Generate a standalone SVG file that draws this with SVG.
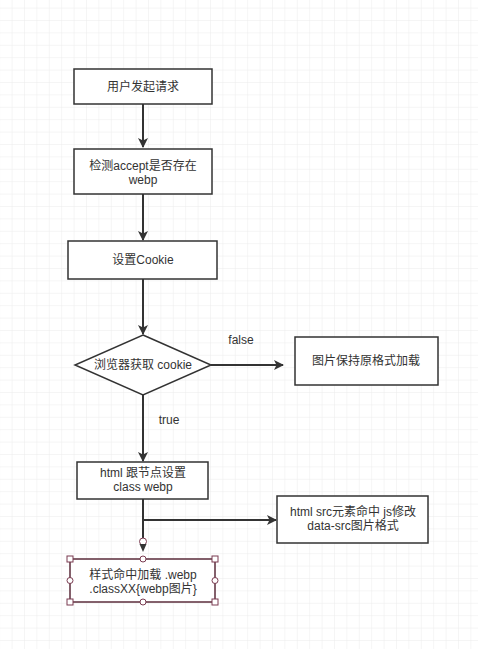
<svg xmlns="http://www.w3.org/2000/svg" width="478" height="649" viewBox="0 0 478 649">
<defs>
<pattern id="grid" x="11.6" y="7.6" width="12.4" height="12.4" patternUnits="userSpaceOnUse">
<path d="M0 0H12.4M0 0V12.4" fill="none" stroke="#ececec" stroke-width="1"/>
</pattern>
<marker id="arr" markerWidth="10" markerHeight="10" refX="9" refY="5" orient="auto" markerUnits="userSpaceOnUse">
<path d="M0 0L10 5L0 10L2.5 5Z" fill="#333"/>
</marker>
<style>
.box{fill:#fff;stroke:#333;stroke-width:1.5}
.sel{fill:#fff;stroke:#5b2c3b;stroke-width:1.5}
.t{font-family:"Liberation Sans","Noto Sans CJK SC",sans-serif;font-size:12px;fill:#333;text-anchor:middle}
.c{fill:none;stroke:#333;stroke-width:2}
.h{fill:#fff;stroke:#7a3b50;stroke-width:1}
</style>
</defs>
<rect width="478" height="649" fill="#fff"/>
<rect width="478" height="649" fill="url(#grid)"/>
<g id="connectors">
<path class="c" d="M143 104V147" marker-end="url(#arr)"/>
<path class="c" d="M143 194V240" marker-end="url(#arr)"/>
<path class="c" d="M143 279V334" marker-end="url(#arr)"/>
<path class="c" d="M211 365H283" marker-end="url(#arr)"/>
<path class="c" d="M143 395V461" marker-end="url(#arr)"/>
<path class="c" d="M143 499V538"/>
<path class="c" d="M143 520H276" marker-end="url(#arr)"/>
<circle class="h" cx="143" cy="541.5" r="3.5"/>
<path d="M139.5 544L143 552L146.5 544Z" fill="#333"/>
<text class="t" x="241" y="344">false</text>
<text class="t" x="169" y="424">true</text>
</g>
<g id="n1">
<rect class="box" x="74" y="69" width="138" height="35"/>
<text class="t" x="143" y="91">用户发起请求</text>
</g>
<g id="n2">
<rect class="box" x="74" y="149" width="138" height="45"/>
<text class="t" x="143" y="170">检测accept是否存在</text>
<text class="t" x="143" y="184">webp</text>
</g>
<g id="n3">
<rect class="box" x="68" y="241" width="149" height="38"/>
<text class="t" x="143" y="264">设置Cookie</text>
</g>
<g id="n4">
<path class="box" d="M143 335L211 365L143 395L75 365Z"/>
<text class="t" x="143" y="369">浏览器获取 cookie</text>
</g>
<g id="n5">
<rect class="box" x="295" y="337" width="143" height="48"/>
<text class="t" x="366" y="365">图片保持原格式加载</text>
</g>
<g id="n6">
<rect class="box" x="77" y="462" width="131" height="37"/>
<text class="t" x="143" y="477">html 跟节点设置</text>
<text class="t" x="143" y="491">class webp</text>
</g>
<g id="n7">
<rect class="box" x="277" y="496" width="151" height="47"/>
<text class="t" x="353" y="516">html src元素命中 js修改</text>
<text class="t" x="353" y="530">data-src图片格式</text>
</g>
<g id="n8">
<rect class="sel" x="70" y="559" width="145" height="43"/>
<text class="t" x="143" y="579">样式命中加载 .webp</text>
<text class="t" x="143" y="593">.classXX{webp图片}</text>
<rect class="h" x="67" y="556" width="6" height="6"/>
<rect class="h" x="212" y="556" width="6" height="6"/>
<rect class="h" x="67" y="599" width="6" height="6"/>
<rect class="h" x="212" y="599" width="6" height="6"/>
<circle class="h" cx="143" cy="559" r="3"/>
<circle class="h" cx="143" cy="602" r="3"/>
<circle class="h" cx="70" cy="580.5" r="3"/>
<circle class="h" cx="215" cy="580.5" r="3"/>
</g>
</svg>
